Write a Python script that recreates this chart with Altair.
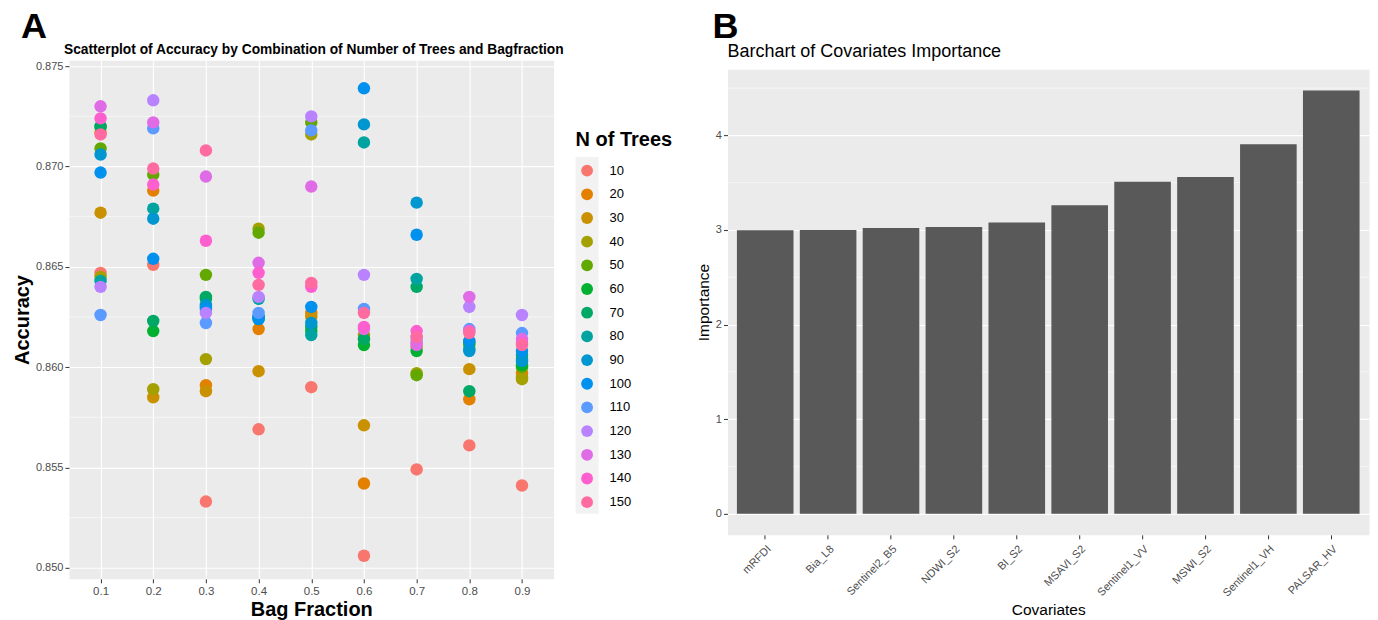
import altair as alt
import pandas as pd

FONT = "Liberation Sans"

# ---------------- Panel A data ----------------
bag_fractions = [0.1, 0.2, 0.3, 0.4, 0.5, 0.6, 0.7, 0.8, 0.9]
n_trees = [10, 20, 30, 40, 50, 60, 70, 80, 90, 100, 110, 120, 130, 140, 150]

# accuracy for each number of trees (10..150) at each bag fraction
acc_bf01 = [0.8647, 0.8717, 0.8677, 0.8645, 0.8709, 0.8720, 0.8720, 0.8643, 0.8706, 0.8697, 0.8626, 0.8640, 0.8730, 0.8724, 0.8716]
acc_bf02 = [0.8651, 0.8688, 0.8585, 0.8589, 0.8696, 0.8618, 0.8623, 0.8679, 0.8674, 0.8654, 0.8719, 0.8733, 0.8722, 0.8691, 0.8699]
acc_bf03 = [0.8533, 0.8591, 0.8588, 0.8604, 0.8646, 0.8634, 0.8635, 0.8630, 0.8631, 0.8629, 0.8622, 0.8627, 0.8695, 0.8663, 0.8708]
acc_bf04 = [0.8569, 0.8619, 0.8598, 0.8669, 0.8667, 0.8624, 0.8625, 0.8634, 0.8625, 0.8624, 0.8627, 0.8635, 0.8652, 0.8647, 0.8641]
acc_bf05 = [0.8590, 0.8627, 0.8625, 0.8716, 0.8722, 0.8618, 0.8620, 0.8616, 0.8622, 0.8630, 0.8718, 0.8725, 0.8690, 0.8640, 0.8642]
acc_bf06 = [0.8506, 0.8542, 0.8571, 0.8616, 0.8614, 0.8611, 0.8614, 0.8712, 0.8721, 0.8739, 0.8629, 0.8646, 0.8619, 0.8620, 0.8627]
acc_bf07 = [0.8549, 0.8612, 0.8610, 0.8597, 0.8596, 0.8608, 0.8640, 0.8644, 0.8682, 0.8666, 0.8615, 0.8613, 0.8611, 0.8618, 0.8615]
acc_bf08 = [0.8561, 0.8584, 0.8599, 0.8613, 0.8611, 0.8612, 0.8588, 0.8609, 0.8608, 0.8613, 0.8619, 0.8630, 0.8635, 0.8618, 0.8617]
acc_bf09 = [0.8541, 0.8597, 0.8595, 0.8594, 0.8600, 0.8601, 0.8604, 0.8606, 0.8603, 0.8608, 0.8617, 0.8626, 0.8614, 0.8612, 0.8611]
acc_by_bag = [acc_bf01, acc_bf02, acc_bf03, acc_bf04, acc_bf05, acc_bf06, acc_bf07, acc_bf08, acc_bf09]

tree_colors = ["#F8766D", "#E38000", "#C99100", "#A3A000", "#62A800", "#00B030",
               "#00A866", "#00A3A0", "#0096CF", "#0090EE", "#5B9AFF", "#B983FF",
               "#E06BE6", "#FD5FCF", "#FF6AA0"]

acc_major = [0.850, 0.855, 0.860, 0.865, 0.870, 0.875]
acc_minor = [0.8525, 0.8575, 0.8625, 0.8675, 0.8725]

# ---------------- Panel B data ----------------
covariates = ["mRFDI", "Bia_L8", "Sentinel2_B5", "NDWI_S2", "BI_S2", "MSAVI_S2",
              "Sentinel1_VV", "MSWI_S2", "Sentinel1_VH", "PALSAR_HV"]
importance = [2.997, 3.00, 3.02, 3.03, 3.08, 3.26, 3.51, 3.56, 3.905, 4.475]
imp_major = [0, 1, 2, 3, 4]
imp_minor = [0.5, 1.5, 2.5, 3.5, 4.5]

# ---------------- tables ----------------
rows = []
for bf, accs in zip(bag_fractions, acc_by_bag):
    for n, a in zip(n_trees, accs):
        rows.append({"bag": bf, "trees": n, "acc": a})
scatter_df = pd.DataFrame(rows).sort_values("trees", kind="stable")
minor_a_df = pd.DataFrame({"acc": acc_minor})
bar_df = pd.DataFrame({"cov": covariates, "imp": importance})
minor_b_df = pd.DataFrame({"imp": imp_minor})
one = pd.DataFrame({"k": [0]})

axis_common = dict(domain=False, tickColor="#333333", tickSize=4, tickWidth=1,
                   labelColor="#4D4D4D", labelFont=FONT, gridColor="white",
                   gridWidth=1.1, titleFont=FONT, titleColor="black")


def annotation(text, dx, dy, size, weight):
    return alt.Chart(one).mark_text(text=text, font=FONT, fontSize=size, fontWeight=weight,
                                    align="left", baseline="alphabetic", color="black").encode(
        x=alt.value(dx), y=alt.value(dy)
    )


# ---------------- Panel A ----------------
W_A, H_A = 485, 519
yA = alt.Scale(domain=[0.84945, 0.8753], nice=False, zero=False)
xA = alt.Scale(domain=[0.04, 0.96], nice=False, zero=False)

minor_a = alt.Chart(minor_a_df).mark_rule(color="white", strokeWidth=0.55).encode(
    y=alt.Y("acc:Q", scale=yA)
)

legend_bg = alt.Chart(one).mark_rect(color="#F2F2F2").encode(
    x=alt.value(507), x2=alt.value(530), y=alt.value(97), y2=alt.value(454)
)

points = alt.Chart(scatter_df).mark_circle(size=155, opacity=1).encode(
    x=alt.X("bag:Q", scale=xA,
            axis=alt.Axis(values=bag_fractions, format=".1f", title="Bag Fraction",
                          titleFontSize=20, titleFontWeight="bold", labelFontSize=11.5,
                          labelPadding=3, titlePadding=2, **axis_common)),
    y=alt.Y("acc:Q", scale=yA,
            axis=alt.Axis(values=acc_major, format=".3f", title="Accuracy",
                          titleFontSize=20, titleFontWeight="bold", labelFontSize=11,
                          labelPadding=2, titlePadding=3, **axis_common)),
    color=alt.Color("trees:N", scale=alt.Scale(domain=n_trees, range=tree_colors),
                    legend=alt.Legend(title="N of Trees", orient="none", legendX=507, legendY=70,
                                      titleFontSize=20, titleFontWeight="bold", titleFont=FONT,
                                      titleColor="black", titlePadding=14,
                                      labelFontSize=13, labelFont=FONT, labelColor="black",
                                      symbolSize=140, symbolType="circle", symbolOffset=5,
                                      symbolStrokeWidth=0, symbolOpacity=1,
                                      rowPadding=9.7, labelOffset=16)),
)

panel_a = alt.layer(
    minor_a, legend_bg, points,
    annotation("A", -48, -22, 36, "bold"),
    annotation("Scatterplot of Accuracy by Combination of Number of Trees and Bagfraction",
               -5, -6, 13.8, "bold"),
).properties(width=W_A, height=H_A)

# ---------------- Panel B ----------------
W_B, H_B = 642, 466
yB = alt.Scale(domain=[-0.224, 4.70], nice=False, zero=False)
xB = alt.Scale(domain=covariates, paddingInner=0.1, paddingOuter=0.15)

minor_b = alt.Chart(minor_b_df).mark_rule(color="white", strokeWidth=0.55).encode(
    y=alt.Y("imp:Q", scale=yB)
)

bars = alt.Chart(bar_df).mark_bar(color="#595959").encode(
    x=alt.X("cov:N", scale=xB, sort=covariates,
            axis=alt.Axis(title="Covariates", titleFontSize=15.5, titleFontWeight="normal",
                          labelAngle=-45, labelAlign="right", labelBaseline="top",
                          labelFontSize=11, labelPadding=4, titlePadding=4, **axis_common)),
    y=alt.Y("imp:Q", scale=yB,
            axis=alt.Axis(values=imp_major, format="d", title="Importance",
                          titleFontSize=15.5, titleFontWeight="normal", labelFontSize=11,
                          labelPadding=2, titlePadding=4, **axis_common)),
    y2=alt.datum(0),
)

panel_b = alt.layer(
    minor_b, bars,
    annotation("B", -15, -31, 36, "bold"),
    annotation("Barchart of Covariates Importance", 0, -12, 18, "normal"),
).properties(width=W_B, height=H_B)

# invisible spacer that lowers panel B's plot area by 9 px relative to panel A
spacer = alt.Chart(one).mark_point(opacity=0).encode(
    x=alt.value(0), y=alt.value(0)
).properties(width=W_B, height=1,
             view=alt.ViewBackground(fill="transparent", stroke="transparent"))

right = alt.vconcat(spacer, panel_b, spacing=8, bounds="flush")

chart = alt.hconcat(panel_a, right, spacing=174, bounds="flush").configure(
    padding={"left": 3, "top": 0, "right": 0, "bottom": 0}
).configure_view(fill="#EBEBEB", stroke="transparent")

chart.save("out.html", embed_options={"renderer": "svg", "actions": False})
